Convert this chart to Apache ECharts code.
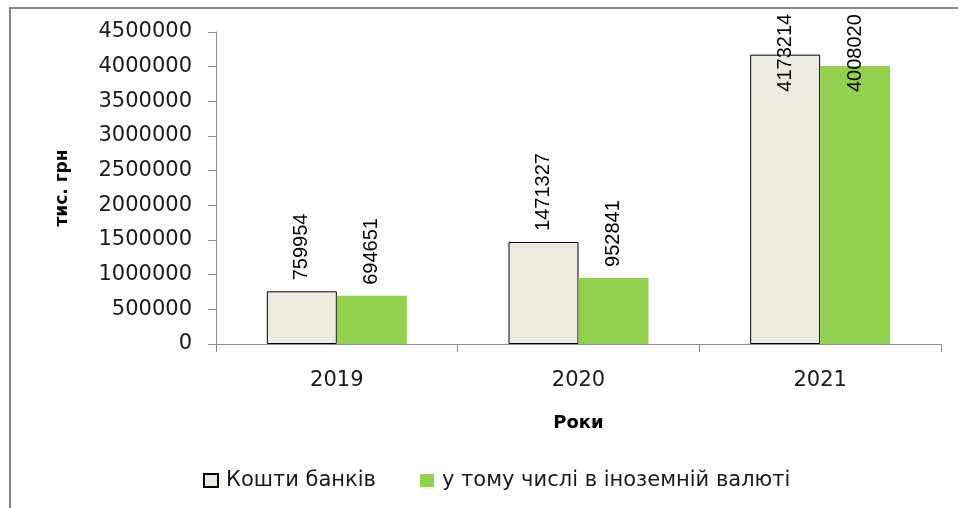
<!DOCTYPE html>
<html>
<head>
<meta charset="utf-8">
<script src="https://cdn.jsdelivr.net/npm/echarts@6/dist/echarts.min.js"></script>
<style>html,body{margin:0;padding:0;background:#fff}#c{width:961px;height:508px}</style>
</head>
<body>
<div id="c"></div>
<script>
const categories = ['2019', '2020', '2021'];
const bankFunds = [759954, 1471327, 4173214];
const foreignCurrency = [694651, 952841, 4008020];
const seriesNames = ['Кошти банків', 'у тому числі в іноземній валюті'];
const yTitle = 'тис. грн';
const xTitle = 'Роки';

const chart = echarts.init(document.getElementById('c'), null, {renderer: 'canvas'});
const baseLabel = {
  show: true, position: 'top', rotate: 90, align: 'left', verticalAlign: 'middle',
  distance: 11, fontFamily: 'Liberation Sans', fontSize: 20, color: '#000'
};
function mkData(vals, insideOffset) {
  return vals.map((v) => {
    if (v > 3800000) {
      return {value: v, label: {position: ['50%', insideOffset]}};
    }
    return v;
  });
}
chart.setOption({
  animation: false,
  textStyle: {fontFamily: 'DejaVu Sans'},
  graphic: [
    {type: 'line', shape: {x1: 10, y1: 7, x2: 10, y2: 508}, style: {stroke: '#878787', lineWidth: 2}},
    {type: 'line', shape: {x1: 9, y1: 8, x2: 958, y2: 8}, style: {stroke: '#878787', lineWidth: 2}}
  ],
  grid: {left: 216, right: 20, top: 32, bottom: 164},
  legend: {
    top: 465, left: 198, itemWidth: 14, itemHeight: 13, itemGap: 44, icon: 'rect',
    textStyle: {fontFamily: 'DejaVu Sans', fontSize: 21, color: '#1a1a1a', padding: [0, 0, 0, 3]},
    data: seriesNames
  },
  xAxis: {
    type: 'category', data: categories,
    name: xTitle, nameLocation: 'middle', nameGap: 70,
    nameTextStyle: {fontFamily: 'DejaVu Sans', fontWeight: 'bold', fontSize: 18, color: '#000'},
    axisLine: {lineStyle: {color: '#8c8c8c', width: 1}},
    axisTick: {show: true, length: 8, lineStyle: {color: '#8c8c8c'}},
    axisLabel: {margin: 26, fontFamily: 'DejaVu Sans', fontSize: 21, color: '#1a1a1a'}
  },
  yAxis: {
    type: 'value', min: 0, max: 4500000, interval: 500000,
    name: yTitle, nameLocation: 'middle', nameGap: 145, nameRotate: 90,
    nameTextStyle: {fontFamily: 'DejaVu Sans', fontWeight: 'bold', fontSize: 17, color: '#000'},
    splitLine: {show: false},
    axisLine: {show: true, lineStyle: {color: '#8c8c8c', width: 1}},
    axisTick: {show: true, length: 8, lineStyle: {color: '#8c8c8c'}},
    axisLabel: {margin: 24, fontFamily: 'DejaVu Sans', fontSize: 21, color: '#1a1a1a',
      formatter: (v) => String(v)}
  },
  series: [
    {
      name: seriesNames[0], type: 'bar', data: mkData(bankFunds, 37),
      barWidth: 70, barGap: '0%',
      itemStyle: {color: '#edeae0', borderColor: '#000', borderWidth: 1},
      label: baseLabel
    },
    {
      name: seriesNames[1], type: 'bar', data: mkData(foreignCurrency, 26),
      barWidth: 70, barGap: '0%',
      itemStyle: {color: '#92d050'},
      label: baseLabel
    }
  ]
});
</script>
</body>
</html>
